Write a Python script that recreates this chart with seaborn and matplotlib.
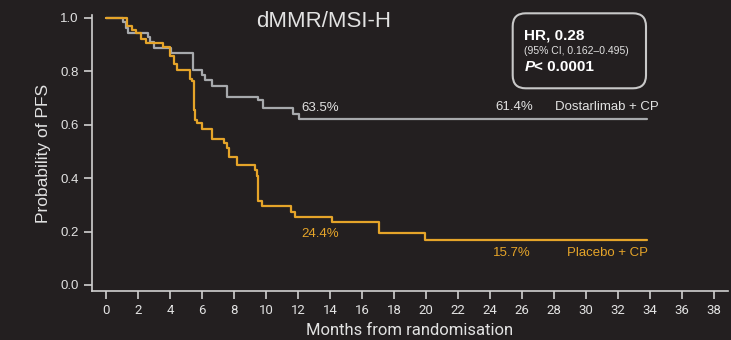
import numpy as np
import pandas as pd
import seaborn as sns
import matplotlib.pyplot as plt
from matplotlib.patches import FancyBboxPatch

# Kaplan-Meier step points (months, probability)
dostar_t = [0, 1.06, 1.2, 1.35, 2.62, 2.75, 2.95, 4.04, 5.44, 5.96, 6.17, 6.58,
            7.56, 9.5, 9.81, 11.65, 12.06, 33.8]
dostar_s = [1.0, 0.985, 0.962, 0.941, 0.929, 0.91, 0.888, 0.866, 0.806, 0.785,
            0.766, 0.744, 0.703, 0.691, 0.662, 0.64, 0.622, 0.622]

placebo_t = [0, 1.31, 1.58, 1.85, 2.16, 2.46, 3.55, 3.98, 4.25, 4.4, 5.23, 5.37,
             5.45, 5.53, 5.69, 5.96, 6.62, 7.35, 7.52, 7.69, 8.19, 9.29, 9.4,
             9.5, 9.7, 11.52, 11.8, 14.1, 17.07, 19.93, 33.8]
placebo_s = [1.0, 0.97, 0.954, 0.941, 0.922, 0.904, 0.891, 0.856, 0.825, 0.806,
             0.772, 0.762, 0.653, 0.618, 0.606, 0.585, 0.547, 0.531, 0.513, 0.478,
             0.447, 0.43, 0.409, 0.315, 0.297, 0.272, 0.256, 0.237, 0.193, 0.168,
             0.168]

arms = ["Dostarlimab + CP", "Placebo + CP"]
colors = ["#a7a9ac", "#e5a429"]

bg = "#231f20"
fg = "#e2e2e2"

df = pd.DataFrame({
    "Months": dostar_t + placebo_t,
    "PFS": dostar_s + placebo_s,
    "Arm": [arms[0]] * len(dostar_t) + [arms[1]] * len(placebo_t),
})

sns.set_style("dark", rc={"axes.facecolor": bg, "figure.facecolor": bg})
plt.rcParams["font.family"] = ["Liberation Sans", "DejaVu Sans"]

fig = plt.figure(figsize=(7.31, 3.40), dpi=100)
ax = fig.add_axes([92 / 731, 1 - 291 / 340, (728 - 92) / 731, (291 - 15) / 340])

sns.lineplot(data=df, x="Months", y="PFS", hue="Arm", palette=colors,
             drawstyle="steps-post", estimator=None, linewidth=1.6,
             legend=False, ax=ax)

ax.set_xlim(-0.9, 38.87)
ax.set_ylim(-0.0225, 1.01)
ax.set_xticks(np.arange(0, 39, 2))
ax.set_yticks(np.arange(0, 1.01, 0.2))
ax.set_yticklabels([f"{v:.1f}" for v in np.arange(0, 1.01, 0.2)])

for s in ["top", "right"]:
    ax.spines[s].set_visible(False)
for s in ["left", "bottom"]:
    ax.spines[s].set_color("#d0d0d0")
    ax.spines[s].set_linewidth(1.2)

ax.tick_params(axis="both", colors="#d0d0d0", length=6, width=1.2,
               labelcolor=fg, labelsize=9.5, bottom=True, left=True)
ax.tick_params(axis="x", pad=3)
for lab in ax.get_xticklabels():
    lab.set_family("Roboto")

ax.set_xlabel("Months from randomisation", color=fg, fontsize=12,
              family="Roboto", labelpad=5)
ax.set_ylabel("Probability of PFS", color=fg, fontsize=12.5, labelpad=7)
ax.grid(False)

# title and curve annotations
ax.text(13.6, 0.985, "dMMR/MSI-H", color=fg, fontsize=16, ha="center", va="center")
ax.text(12.2, 0.662, "63.5%", color=fg, fontsize=9.5, va="center")
ax.text(24.3, 0.665, "61.4%", color=fg, fontsize=9.5, va="center")
ax.text(28.05, 0.665, arms[0], color=fg, fontsize=9.5, va="center")
ax.text(12.2, 0.19, "24.4%", color=colors[1], fontsize=9.5, va="center")
ax.text(24.16, 0.118, "15.7%", color=colors[1], fontsize=9.5, va="center")
ax.text(28.8, 0.118, arms[1], color=colors[1], fontsize=9.5, va="center")

# hazard ratio box
tr = fig.dpi_scale_trans
box = FancyBboxPatch((5.127, 2.517), 1.333, 0.75,
                     boxstyle="round,pad=0,rounding_size=0.13",
                     transform=tr, facecolor="none", edgecolor="#c8c8c8",
                     linewidth=1.5)
fig.patches.append(box)
fig.text(5.243, 3.04, "HR, 0.28", transform=tr, color="white",
         fontsize=11, fontweight="bold", va="center")
fig.text(5.243, 2.893, "(95% CI, 0.162\u20130.495)", transform=tr, color=fg,
         fontsize=7.5, va="center")
fig.text(5.243, 2.733, "P", transform=tr, color="white", fontsize=11,
         fontweight="bold", fontstyle="italic", va="center")
fig.text(5.345, 2.733, "< 0.0001", transform=tr, color="white", fontsize=11,
         fontweight="bold", va="center")

fig.savefig("out.png", dpi=100, facecolor=bg)
